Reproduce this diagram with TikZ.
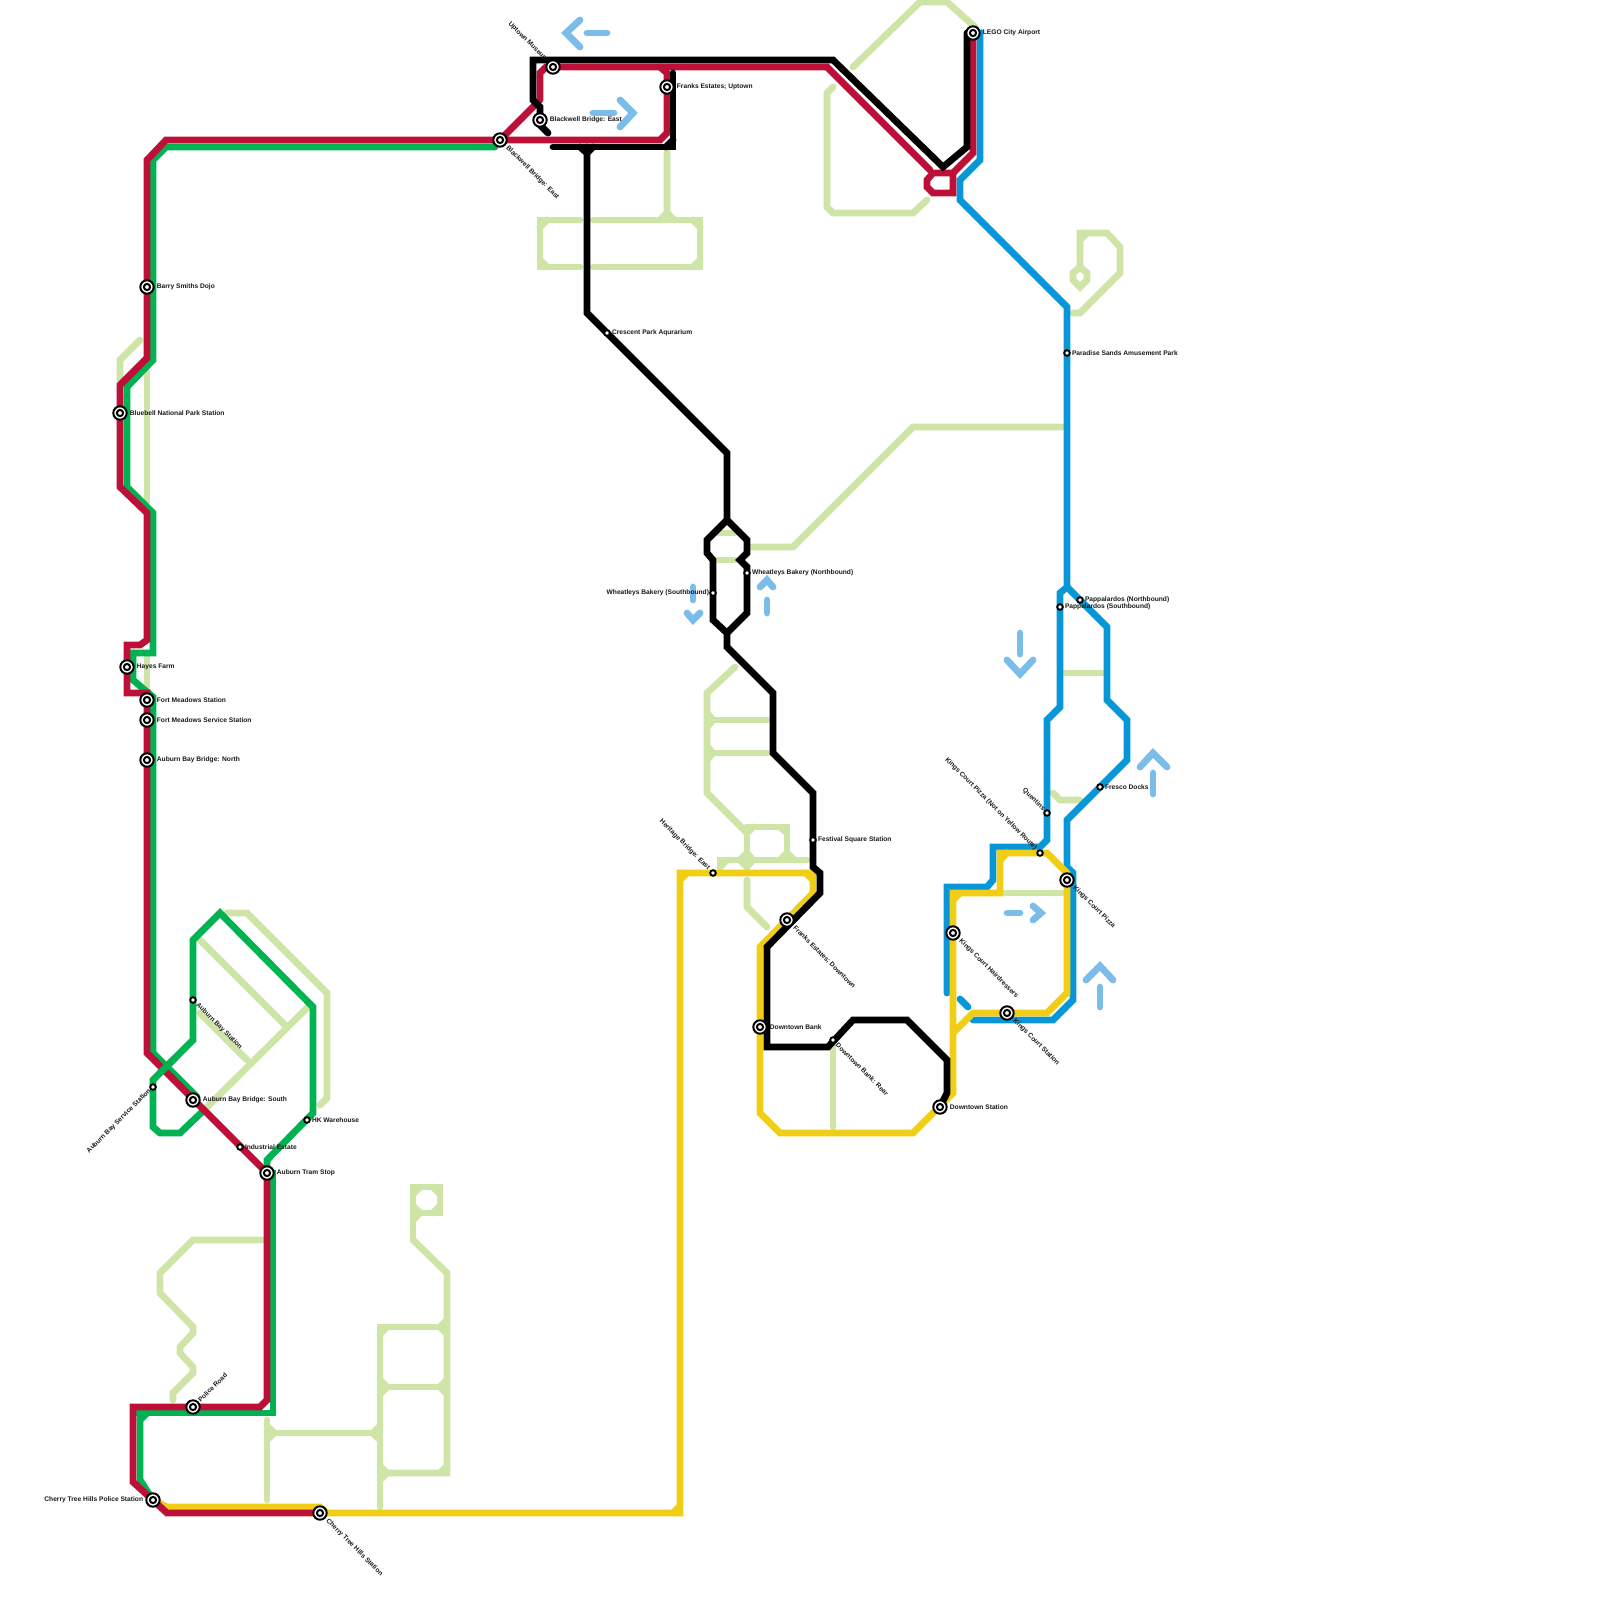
\documentclass[tikz,border=0pt]{standalone}
\usepackage{fontspec}
\setmainfont{Liberation Sans}
\usetikzlibrary{positioning, backgrounds}
\definecolor{linered}{HTML}{BD1038}
\definecolor{linegreen}{HTML}{00B251}
\definecolor{lineblue}{HTML}{0896D7}
\definecolor{lineyellow}{HTML}{F0CE15}
\definecolor{parkgreen}{HTML}{CFE5A7}
\definecolor{arrowblue}{HTML}{7BBDE8}
\begin{document}
\begin{tikzpicture}[
  x=1pt, y=-1pt,
  route/.style={line width=6.8pt, line cap=round, line join=miter, miter limit=10},
  redline/.style={route, draw=linered},
  greenline/.style={route, draw=linegreen},
  blueline/.style={route, draw=lineblue},
  yellowline/.style={route, draw=lineyellow},
  blackline/.style={route, draw=black},
  park/.style={route, draw=parkgreen},
  pointer/.style={route, draw=arrowblue},
  halt/.style={circle, draw=black, fill=white, line width=1.9pt, minimum size=5.6pt,
               inner sep=0pt, outer sep=0pt},
  hub/.style={circle, draw=black, fill=white, line width=2pt, minimum size=13.4pt,
              inner sep=0pt, outer sep=0pt,
              path picture={\draw[black, line width=2pt] (path picture bounding box.center) circle (3.1pt);}},
  lbl/.style={font=\fontsize{6.65}{7}\selectfont\bfseries, inner sep=0pt, text=black!90},
  lbldown/.style={lbl, rotate=-45, anchor=west},
  lblback/.style={lbl, rotate=-45, anchor=east},
  lblup/.style={lbl, rotate=45, anchor=west},
  lbllow/.style={lbl, rotate=45, anchor=east}
]
  \useasboundingbox (0,0) rectangle (1600,1600);
  % Big stations
  \node[hub] (lego) at (973,33) {};
  \node[hub] (uptownmuseum) at (553,67) {};
  \node[hub] (blackwell) at (540,120) {};
  \node[hub] (bridgeeast) at (500,140) {};
  \node[hub] (franksuptown) at (667,87) {};
  \node[hub] (barry) at (147,287) {};
  \node[hub] (bluebell) at (120,413) {};
  \node[hub] (hayes) at (127,667) {};
  \node[hub] (fort) at (147,700) {};
  \node[hub] (fortservice) at (147,720) {};
  \node[hub] (bridgenorth) at (147,760) {};
  \node[hub] (bridgesouth) at (193,1100) {};
  \node[hub] (tramstop) at (267,1173) {};
  \node[hub] (policeroad) at (193,1407) {};
  \node[hub] (policestation) at (153,1500) {};
  \node[hub] (cherry) at (320,1513) {};
  \node[hub] (franksdown) at (787,920) {};
  \node[hub] (bank) at (760,1027) {};
  \node[hub] (downtown) at (940,1107) {};
  \node[hub] (hairdressers) at (953,933) {};
  \node[hub] (kingsstation) at (1007,1013) {};
  \node[hub] (kingspizza) at (1067,880) {};
  % Small stations
  \node[halt] (servicestn) at (153,1087) {};
  \node[halt] (baystation) at (193,1000) {};
  \node[halt] (warehouse) at (307,1120) {};
  \node[halt] (industrial) at (240,1147) {};
  \node[halt] (crescent) at (607,333) {};
  \node[halt] (wheatsouth) at (713,593) {};
  \node[halt] (wheatnorth) at (747,573) {};
  \node[halt] (festival) at (813,840) {};
  \node[halt] (heritage) at (713,873) {};
  \node[halt] (bankrear) at (833,1040) {};
  \node[halt] (pizzanot) at (1040,853) {};
  \node[halt] (quentins) at (1047,813) {};
  \node[halt] (fresco) at (1100,787) {};
  \node[halt] (papnorth) at (1080,600) {};
  \node[halt] (papsouth) at (1060,607) {};
  \node[halt] (paradise) at (1067,353) {};
  % Labels
  \node[lbl, right=3pt of lego] {LEGO City Airport};
  \node[lbl, right=3pt of franksuptown] {Franks Estates; Uptown};
  \node[lbl, right=3pt of blackwell] {Blackwell Bridge: East};
  \node[lbl, right=3pt of barry] {Barry Smiths Dojo};
  \node[lbl, right=3pt of bluebell] {Bluebell National Park Station};
  \node[lbl, right=3pt of hayes] {Hayes Farm};
  \node[lbl, right=3pt of fort] {Fort Meadows Station};
  \node[lbl, right=3pt of fortservice] {Fort Meadows Service Station};
  \node[lbl, right=3pt of bridgenorth] {Auburn Bay Bridge: North};
  \node[lbl, right=3pt of bridgesouth] {Auburn Bay Bridge: South};
  \node[lbl, right=3pt of tramstop] {Auburn Tram Stop};
  \node[lbl, right=2pt of warehouse] {HK Warehouse};
  \node[lbl, right=2pt of industrial] {Industrial Estate};
  \node[lbl, right=2pt of crescent] {Crescent Park Aqurarium};
  \node[lbl, right=2pt of wheatnorth] {Wheatleys Bakery (Northbound)};
  \node[lbl, left=1pt of wheatsouth] {Wheatleys Bakery (Southbound)};
  \node[lbl, right=2pt of festival] {Festival Square Station};
  \node[lbl, right=3pt of bank] {Downtown Bank};
  \node[lbl, right=3pt of downtown] {Downtown Station};
  \node[lbl, right=2pt of fresco] {Fresco Docks};
  \node[lbl, right=2pt of papnorth] {Pappalardos (Northbound)};
  \node[lbl, right=2pt of papsouth] {Pappalardos (Southbound)};
  \node[lbl, right=2pt of paradise] {Paradise Sands Amusement Park};
  \node[lbl, left=3pt of policestation] {Cherry Tree Hills Police Station};
  \node[lbldown] at ([shift={(7,7)}]bridgeeast.center) {Blackwell Bridge: East};
  \node[lbldown] at ([shift={(7,7)}]cherry.center) {Cherry Tree Hills Station};
  \node[lbldown] at ([shift={(7,7)}]franksdown.center) {Franks Estates; Downtown};
  \node[lbldown] at ([shift={(4,4)}]bankrear.center) {Downtown Bank: Rear};
  \node[lbldown] at ([shift={(7,7)}]hairdressers.center) {Kings Court Hairdressers};
  \node[lbldown] at ([shift={(7,7)}]kingsstation.center) {Kings Court Station};
  \node[lbldown] at ([shift={(7,7)}]kingspizza.center) {Kings Court Pizza};
  \node[lbldown] at ([shift={(4,4)}]baystation.center) {Auburn Bay Station};
  \node[lblback] at ([shift={(-6,-6)}]uptownmuseum.center) {Uptown Museum};
  \node[lblback] at ([shift={(-4,-4)}]heritage.center) {Heritage Bridge: East};
  \node[lblback] at ([shift={(-4,-4)}]pizzanot.center) {Kings Court Pizza (Not on Yellow Route)};
  \node[lblback] at ([shift={(-3,-3)}]quentins.center) {Quentins};
  \node[lblup] at ([shift={(6,-6)}]policeroad.center) {Police Road};
  \node[lbllow] at ([shift={(-3,3)}]servicestn.center) {Auburn Bay Service Station};

  \begin{scope}[on background layer]
    % Parks and walks
    \draw[park] (853,67) -- (920,2) -- (947,2) -- (975,27);
    \draw[park] (833,87) -- (827,93) -- (827,207) -- (833,213) -- (913,213) -- (927,200);
    \draw[park] (667,152) -- (667,213) -- (660,220);
    \draw[park] (667,213) -- (674,220);
    \draw[park] (580,220) -- (540,220) -- (540,267) -- (580,267);
    \draw[park] (593,220) -- (700,220) -- (700,267) -- (593,267);
    \draw[park] (1080,267) -- (1080,233) -- (1107,233) -- (1120,247) -- (1120,273) -- (1080,313) -- (1073,313);
    \draw[park] (1080,267) -- (1087,273) -- (1087,280) -- (1080,287) -- (1073,280) -- (1073,273) -- cycle;
    \draw[park] (140,340) -- (120,360) -- (120,380);
    \draw[park] (147,372) -- (147,502);
    \draw[park] (147,657) -- (147,690);
    \draw[park] (718,533) -- (735,533);
    \draw[park] (718,560) -- (735,560);
    \draw[park] (752,547) -- (793,547) -- (913,427) -- (1062,427);
    \draw[park] (735,667) -- (707,693) -- (707,793) -- (747,833);
    \draw[park] (707,720) -- (767,720);
    \draw[park] (707,753) -- (767,753);
    \draw[park] (747,827) -- (787,827) -- (787,860);
    \draw[park] (747,827) -- (747,867);
    \draw[park] (720,867) -- (720,860) -- (807,860);
    \draw[park] (747,880) -- (747,907) -- (767,927);
    \draw[park] (1005,893) -- (1062,893);
    \draw[park] (1065,673) -- (1102,673);
    \draw[park] (1053,793) -- (1060,800) -- (1080,800);
    \draw[park] (833,1045) -- (833,1127);
    \draw[park] (227,913) -- (247,913) -- (327,993) -- (327,1098) -- (320,1105);
    \draw[park] (200,940) -- (285,1025);
    \draw[park] (308,1007) -- (207,1107);
    \draw[park] (200,1013) -- (247,1060);
    \draw[park] (262,1240) -- (193,1240) -- (160,1273) -- (160,1293) -- (193,1327) -- (193,1333)
      -- (180,1347) -- (180,1353) -- (193,1367) -- (193,1373) -- (173,1393) -- (173,1400);
    \draw[park] (413,1240) -- (413,1187) -- (440,1187) -- (440,1213) -- (413,1213);
    \draw[park] (413,1240) -- (447,1273) -- (447,1473) -- (380,1473);
    \draw[park] (380,1507) -- (380,1327) -- (447,1327);
    \draw[park] (380,1387) -- (447,1387);
    \draw[park] (267,1433) -- (380,1433);
    \draw[park] (267,1420) -- (267,1500);
    % Inner corners of the parks
    \foreach \a/\b/\c/\d in {540/227/547/220, 540/260/547/267, 700/227/693/220, 700/260/693/267,
      1080/240/1087/233, 707/713/713/720, 707/727/713/720, 707/746/713/753, 707/760/713/753,
      747/833/753/827, 780/827/787/833, 787/853/780/860, 787/853/794/860, 747/853/753/860,
      747/853/740/860, 720/867/727/860, 747/867/753/860, 747/867/740/860,
      413/1194/420/1187, 433/1187/440/1194, 440/1206/433/1213, 413/1206/420/1213, 413/1220/420/1213,
      380/1334/387/1327, 440/1327/447/1334, 440/1327/447/1320, 380/1380/387/1387, 380/1394/387/1387,
      440/1387/447/1380, 440/1387/447/1394, 380/1466/387/1473, 380/1480/387/1473, 440/1473/447/1466,
      373/1433/380/1426, 373/1433/380/1440, 267/1426/274/1433, 267/1440/274/1433} {
      \draw[park] (\a,\b) -- (\c,\d);
    }
    % Blue route
    \draw[blueline] (lego.center) -- (980,33) -- (980,160) -- (960,180) -- (960,200) -- (1067,307)
      -- (1067,587) -- (1060,593) -- (1060,707) -- (1047,720) -- (1047,840) -- (1040,847) -- (993,847)
      -- (993,880) -- (987,887) -- (947,887) -- (947,993);
    \draw[blueline] (1067,587) -- (1107,627) -- (1107,700) -- (1127,720) -- (1127,760) -- (1067,820)
      -- (1067,867) -- (1073,873) -- (1073,1000) -- (1053,1020) -- (973,1020);
    \draw[blueline] (960,999) -- (968,1007);
    % Yellow route
    \draw[yellowline] (policestation.center) -- (167,1507) -- (320,1507) -- (327,1513) -- (680,1513) -- (680,873)
      -- (817,873) -- (813,873) -- (813,893) -- (760,947) -- (760,1113) -- (780,1133) -- (913,1133)
      -- (953,1093) -- (953,893) -- (1000,893) -- (1000,853) -- (1047,853) -- (1067,873) -- (1067,993)
      -- (1047,1013) -- (973,1013) -- (953,1033);
    \draw[yellowline] (680,880) -- (687,873);
    \draw[yellowline] (680,1506) -- (673,1513);
    \draw[yellowline] (806,873) -- (813,880);
    \draw[yellowline] (953,900) -- (960,893);
    \draw[yellowline] (1000,860) -- (1007,853);
    % Green route
    \draw[greenline] (495,147) -- (166,147) -- (153,160) -- (153,360) -- (127,387) -- (127,487) -- (153,513)
      -- (153,653) -- (133,653) -- (133,680) -- (153,697) -- (153,1053) -- (197,1097);
    \draw[greenline] (202,1112) -- (180,1133) -- (160,1133) -- (153,1127) -- (153,1080) -- (193,1040)
      -- (193,940) -- (220,913) -- (313,1007) -- (313,1113) -- (267,1160) -- (267,1173);
    \draw[greenline] (tramstop.center) -- (273,1173) -- (273,1413) -- (133,1413) -- (133,1420);
    \draw[greenline] (140,1413) -- (140,1480) -- (policestation.center);
    \draw[greenline] (140,1420) -- (147,1413);
    \draw[greenline] (133,653) -- (133,660);
    % Red route
    \draw[redline] (535,105) -- (bridgeeast.center) -- (660,140) -- (667,133) -- (667,73) -- (660,67);
    \draw[redline] (bridgeeast.center) -- (166,140) -- (147,160) -- (147,358) -- (120,385) -- (120,487)
      -- (147,513) -- (147,640) -- (140,645) -- (127,645) -- (127,693) -- (147,693) -- (147,1053)
      -- (tramstop.center) -- (267,1400) -- (260,1407) -- (133,1407) -- (133,1482) -- (167,1513)
      -- (cherry.center);
    \draw[redline] (540,100) -- (540,73) -- (546,67) -- (827,67) -- (930,170);
    \draw[redline] (933,173) -- (953,173) -- (953,193) -- (933,193) -- (927,187) -- (927,180) -- cycle;
    \draw[redline] (953,173) -- (973,153) -- (973,33);
    % Green crossing over the red
    \draw[greenline] (160,1073) -- (175,1058);
    % Black route
    \draw[blackline] (548,133) -- (540,125) -- (540,107) -- (533,100) -- (533,60) -- (833,60) -- (943,167)
      -- (967,147) -- (967,33);
    \draw[blackline] (553,147) -- (673,147) -- (673,73);
    \draw[blackline] (666,147) -- (673,140);
    \draw[blackline] (580,147) -- (587,153) -- (593,147);
    \draw[blackline] (587,147) -- (587,313) -- (727,453) -- (727,520) -- (707,540) -- (707,553) -- (713,560)
      -- (713,620) -- (727,633) -- (747,613) -- (747,567) -- (740,560) -- (747,553) -- (747,540) -- (727,520);
    \draw[blackline] (727,633) -- (727,647) -- (773,693) -- (773,753) -- (813,793) -- (813,867) -- (820,873)
      -- (820,893) -- (767,947) -- (767,1047) -- (828,1047) -- (853,1020) -- (907,1020) -- (947,1060)
      -- (947,1093) -- (downtown.center);
    % Direction arrows
    \draw[pointer] (587,33) -- (607,33);
    \draw[pointer] (580,20) -- (566,33) -- (580,47);
    \draw[pointer] (593,113) -- (614,113);
    \draw[pointer] (620,100) -- (633,113) -- (620,127);
    \draw[pointer] (693,587) -- (693,600);
    \draw[pointer] (687,613) -- (693,620) -- (700,613);
    \draw[pointer] (767,600) -- (767,613);
    \draw[pointer] (760,587) -- (767,580) -- (773,587);
    \draw[pointer] (1020,633) -- (1020,654);
    \draw[pointer] (1007,660) -- (1020,674) -- (1033,660);
    \draw[pointer] (1153,773) -- (1153,794);
    \draw[pointer] (1140,767) -- (1153,753) -- (1167,767);
    \draw[pointer] (1007,913) -- (1020,913);
    \draw[pointer] (1033,906) -- (1041,913) -- (1033,920);
    \draw[pointer] (1100,987) -- (1100,1007);
    \draw[pointer] (1086,980) -- (1100,966) -- (1113,980);
  \end{scope}
\end{tikzpicture}
\end{document}
